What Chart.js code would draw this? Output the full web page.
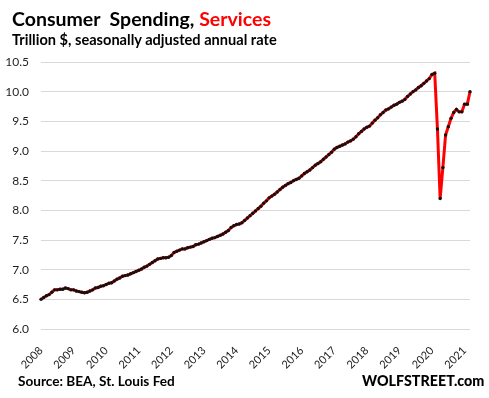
<!DOCTYPE html>
<html>
<head>
<meta charset="utf-8">
<script src="https://cdn.jsdelivr.net/npm/chart.js@4/dist/chart.umd.min.js"></script>
<style>
  body { margin: 0; background: #fff; }
  #wrap { position: relative; width: 489px; height: 398px; font-family: Lato, "Open Sans", sans-serif; }
  #wrap canvas { position: absolute; left: 0; top: 0; }
  .txt { position: absolute; font-weight: bold; color: #000; white-space: pre; line-height: 1; }
</style>
</head>
<body>
<div id="wrap">
  <canvas id="myChart" width="489" height="398"></canvas>
  <div class="txt" style="left:12px; top:9px; font-size:19.5px;">Consumer  Spending, <span style="color:#ff0000">Services</span></div>
  <div class="txt" style="left:12px; top:33px; font-size:14.6px;">Trillion $, seasonally adjusted annual rate</div>
  <div class="txt" style="left:18px; top:375px; font-size:13.6px;">Source: BEA, St. Louis Fed</div>
  <div class="txt" style="left:362px; top:374px; font-size:14.3px; font-weight:900;">WOLFSTREET.com</div>
</div>
<script>
// Consumer spending on services, monthly, trillion $ SAAR (Jan 2008 - Mar 2021)

const years = ["2008", "2009", "2010", "2011", "2012", "2013", "2014",
  "2015", "2016", "2017", "2018", "2019", "2020", "2021"];
const monthNames = ["Jan", "Feb", "Mar", "Apr", "May", "Jun",
  "Jul", "Aug", "Sep", "Oct", "Nov", "Dec"];

const services = [
  // 2008
  6.50, 6.53, 6.56, 6.58, 6.62, 6.66, 6.66, 6.67, 6.67, 6.69, 6.68, 6.66,
  // 2009
  6.66, 6.64, 6.63, 6.62, 6.61, 6.62, 6.64, 6.66, 6.69, 6.70, 6.72, 6.73,
  // 2010
  6.75, 6.77, 6.78, 6.81, 6.84, 6.86, 6.89, 6.90, 6.91, 6.93, 6.95, 6.97,
  // 2011
  6.99, 7.01, 7.04, 7.06, 7.09, 7.12, 7.15, 7.18, 7.19, 7.20, 7.20, 7.21,
  // 2012
  7.24, 7.29, 7.31, 7.33, 7.35, 7.35, 7.37, 7.38, 7.39, 7.42, 7.43, 7.45,
  // 2013
  7.47, 7.49, 7.51, 7.53, 7.54, 7.56, 7.58, 7.60, 7.63, 7.66, 7.71, 7.74,
  // 2014
  7.76, 7.77, 7.79, 7.83, 7.87, 7.91, 7.95, 7.99, 8.03, 8.07, 8.12, 8.16,
  // 2015
  8.21, 8.24, 8.27, 8.31, 8.35, 8.39, 8.42, 8.45, 8.47, 8.50, 8.52, 8.54,
  // 2016
  8.58, 8.62, 8.65, 8.68, 8.72, 8.76, 8.79, 8.82, 8.86, 8.90, 8.94, 8.98,
  // 2017
  9.03, 9.06, 9.08, 9.10, 9.12, 9.15, 9.17, 9.20, 9.24, 9.29, 9.33, 9.37,
  // 2018
  9.40, 9.42, 9.47, 9.52, 9.56, 9.61, 9.65, 9.69, 9.71, 9.74, 9.77, 9.79,
  // 2019
  9.82, 9.84, 9.87, 9.92, 9.96, 10.00, 10.03, 10.07, 10.10, 10.14, 10.18, 10.22,
  // 2020
  10.29, 10.31, 9.37, 8.20, 8.72, 9.27, 9.41, 9.55, 9.65, 9.70, 9.66, 9.66,
  // 2021
  9.79, 9.79, 10.00
];

// one category per month, label "Jan 2008" etc.
const months = [];
for (let i = 0; i < services.length; i++) {
  months.push(monthNames[i % 12] + " " + years[Math.floor(i / 12)]);
}

const ctx = document.getElementById("myChart");

new Chart(ctx, {
  type: "line",
  data: {
    labels: months,
    datasets: [
      {
        label: "Services",
        data: services,
        borderColor: "#ff0000",
        borderWidth: 3,
        tension: 0,
        pointRadius: 1.7,
        pointBorderWidth: 0,
        pointBackgroundColor: "#111",
        clip: false,
      },
    ],
  },
  options: {
    responsive: false,
    animation: false,
    devicePixelRatio: 1,
    layout: {
      padding: { top: 62, left: 0, right: 6, bottom: 29 },
    },
    plugins: {
      legend: { display: false },
      tooltip: { enabled: false },
    },
    scales: {
      x: {
        grid: { display: false, drawTicks: false },
        border: { display: false },
        ticks: {
          autoSkip: false,
          minRotation: 45,
          maxRotation: 45,
          padding: 15,
          color: "#222",
          font: { family: "Lato", size: 11 },
          callback: function (value, index) {
            if (index % 12 === 0) {
              return years[index / 12];
            }
            return null;
          },
        },
        afterFit: function (axis) {
          axis.height = 40;
        },
      },
      y: {
        min: 6,
        max: 10.5,
        grid: { color: "#d9d9d9", lineWidth: 1, drawTicks: false },
        border: { display: false },
        ticks: {
          stepSize: 0.5,
          padding: 12,
          color: "#1f1f1f",
          font: { family: "Lato", size: 12 },
          callback: (v) => v.toFixed(1),
        },
        afterFit: function (axis) {
          axis.width = 41;
        },
      },
    },
  },
});
</script>
</body>
</html>
